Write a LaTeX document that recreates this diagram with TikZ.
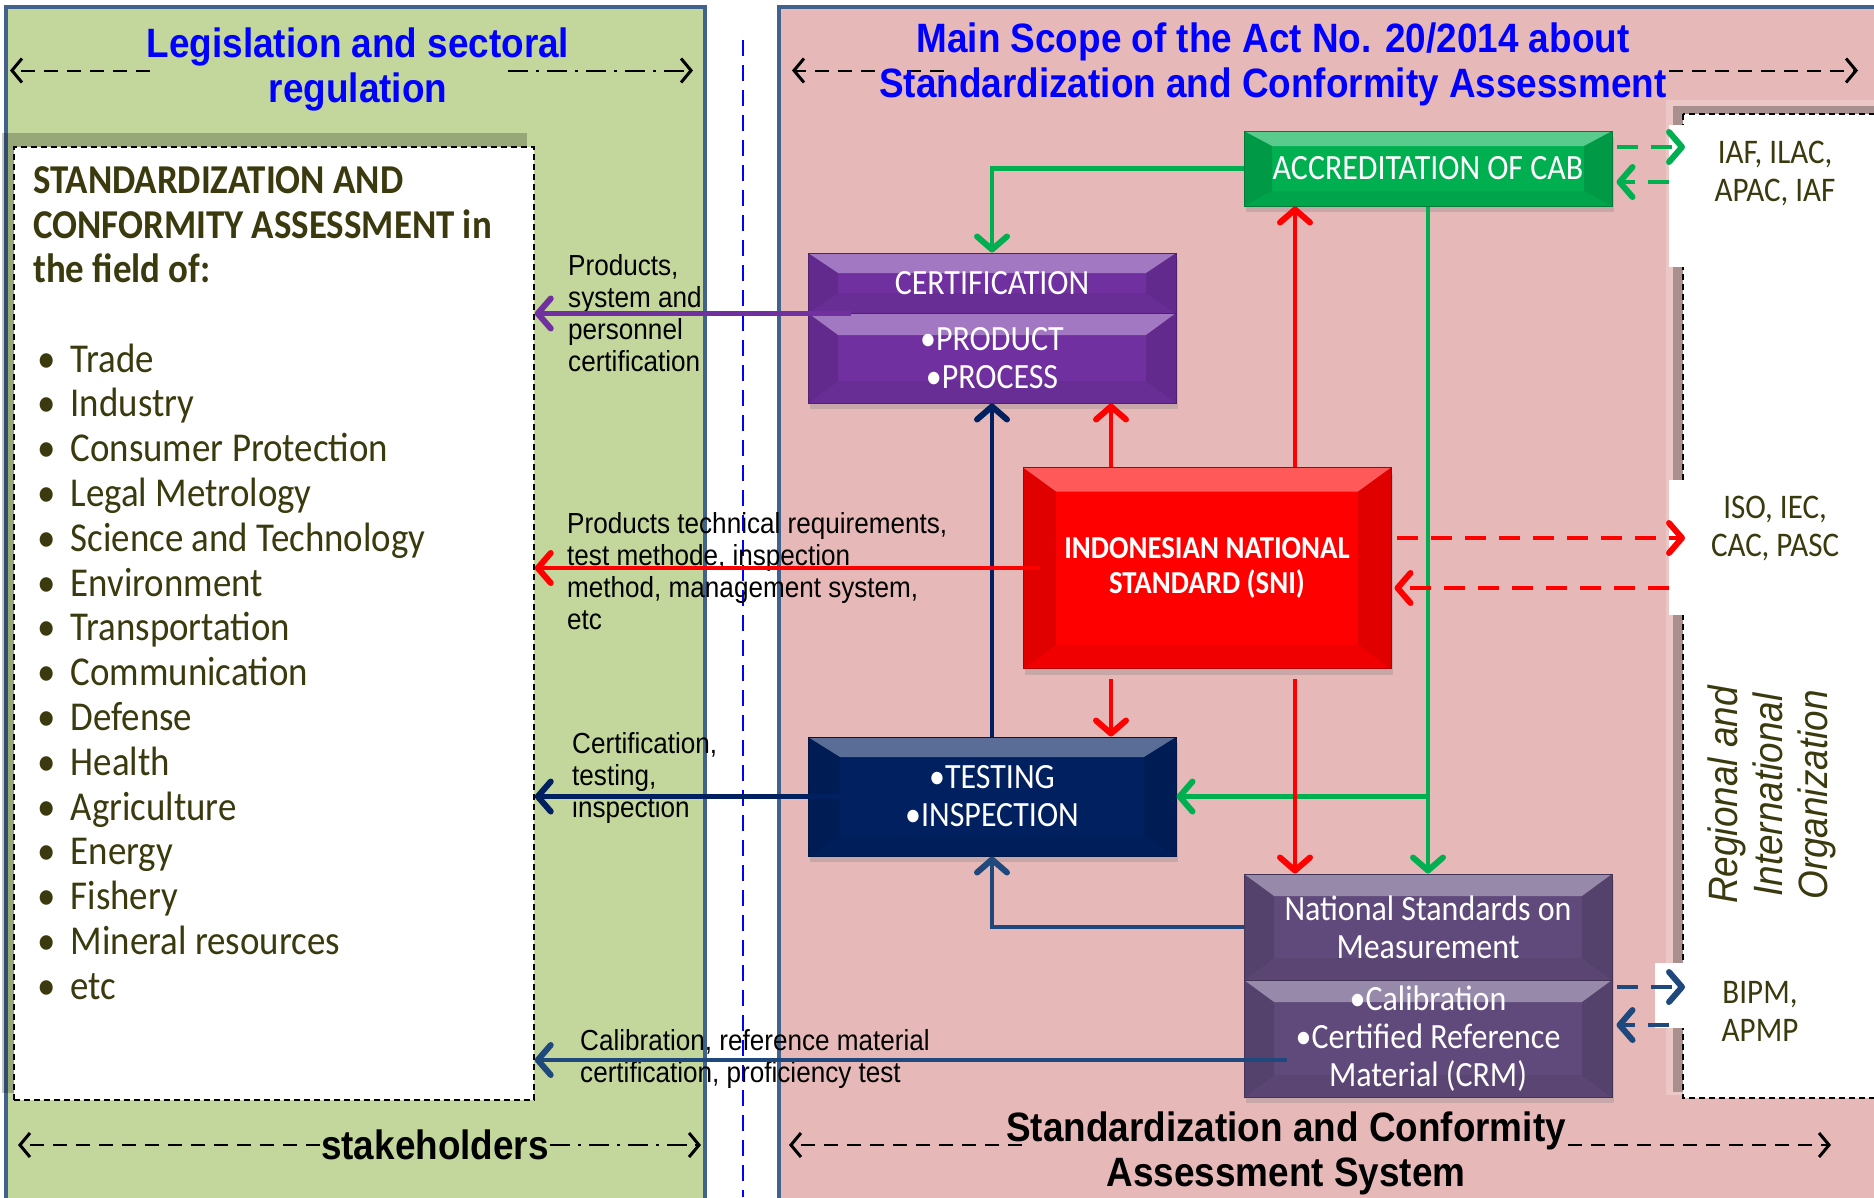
\documentclass[tikz,border=0pt]{standalone}
\usepackage{fontspec}
\usepackage{xcolor}
\usetikzlibrary{arrows.meta}
\usetikzlibrary{shadows}
\newfontfamily\calib[FakeStretch=0.9]{Carlito}
\newfontfamily\arialn[FakeStretch=0.9]{Liberation Sans}
\definecolor{accgreen}{HTML}{00B050}
\definecolor{certpurple}{HTML}{7030A0}
\definecolor{snired}{HTML}{FF0000}
\definecolor{testnavy}{HTML}{002060}
\definecolor{nsmpurple}{HTML}{604A7B}
\definecolor{steelblue}{HTML}{1F497D}
\definecolor{panelgreen}{HTML}{C3D69B}
\definecolor{panelpink}{HTML}{E6B9B8}
\definecolor{frameblue}{HTML}{41628C}
\definecolor{olivetext}{HTML}{3A3A0E}
\definecolor{titleblue}{HTML}{0000FF}
\tikzset{
    bevelbox/.style n args={4}{rectangle, draw=#1!70!black, line width=1pt, fill=#1,
        minimum width=368pt, minimum height=#4pt, inner sep=0pt, align=center, text=white,
        drop shadow={shadow xshift=2pt, shadow yshift=-6pt, opacity=.3},
        path picture={
            \fill[white, opacity=.35] (path picture bounding box.north west)
                -- (path picture bounding box.north east)
                -- ([shift={(-#2pt,-#3pt)}]path picture bounding box.north east)
                -- ([shift={(#2pt,-#3pt)}]path picture bounding box.north west) -- cycle;
            \fill[black, opacity=.12] (path picture bounding box.north west)
                -- ([shift={(#2pt,-#3pt)}]path picture bounding box.north west)
                -- ([shift={(#2pt,#3pt)}]path picture bounding box.south west)
                -- (path picture bounding box.south west) -- cycle;
            \fill[black, opacity=.12] (path picture bounding box.north east)
                -- ([shift={(-#2pt,-#3pt)}]path picture bounding box.north east)
                -- ([shift={(-#2pt,#3pt)}]path picture bounding box.south east)
                -- (path picture bounding box.south east) -- cycle;
            \fill[black, opacity=.06] (path picture bounding box.south west)
                -- ([shift={(#2pt,#3pt)}]path picture bounding box.south west)
                -- ([shift={(-#2pt,#3pt)}]path picture bounding box.south east)
                -- (path picture bounding box.south east) -- cycle;
        }},
    boxtext/.style = {font=\calib\fontsize{35.5}{38}\selectfont},
    conn/.style = {line width=4.5pt, -{Straight Barb[length=13pt,width=30pt,line width=6pt,round]}},
    dconn/.style = {conn, dash pattern=on 21pt off 13pt},
    hdr/.style = {font=\arialn\bfseries\fontsize{41}{45}\selectfont, align=center, inner sep=0pt},
    lbl/.style = {font=\arialn\fontsize{29}{32}\selectfont, align=left, inner sep=0pt, anchor=west},
    org/.style = {font=\calib\fontsize{34.5}{38}\selectfont, text=olivetext, align=center, inner sep=0pt},
    item/.style = {font=\calib\fontsize{41}{44.8}\selectfont, text=olivetext, inner sep=0pt, anchor=base west},
    dimline/.style = {line width=2pt, -{Straight Barb[length=10pt,width=24pt,line width=3pt]}},
    dimdash/.style = {dimline, dash pattern=on 14pt off 9pt},
    dimdot/.style = {dimline, dash pattern=on 20pt off 8pt on 3pt off 8pt},
    patch/.style = {fill=white, inner sep=0pt}
}
\begin{document}
\begin{tikzpicture}[x=1pt, y=-1pt]
\useasboundingbox (0,0) rectangle (1874,1197);
\clip (0,0) rectangle (1874,1197);
\fill[white] (0,0) rectangle (1874,1197);

% the two panels
\draw[frameblue, line width=4pt, fill=panelgreen] (6,7) rectangle (705,1210);
\draw[frameblue, line width=4pt, fill=panelpink] (779,7) rectangle (1895,1210);
\draw[blue, line width=1.5pt, dash pattern=on 16pt off 9pt] (743,40) -- (743,1197);

% fields box
\fill[black, opacity=.22] (2,133) rectangle (527,1093);
\node[draw, fill=white, line width=1.5pt, dash pattern=on 6pt off 4pt,
      minimum width=520pt, minimum height=953pt, inner sep=0pt] (fields) at (274,623.5) {};
\node[font=\calib\bfseries\fontsize{41}{44.5}\selectfont, text=olivetext, align=left,
      anchor=west, inner sep=0pt] (fhead) at (33,225)
      {STANDARDIZATION AND\\CONFORMITY ASSESSMENT in\\the field of:};
\foreach \fname [count=\i] in {Trade, Industry, Consumer Protection, Legal Metrology,
    Science and Technology, Environment, Transportation, Communication, Defense, Health,
    Agriculture, Energy, Fishery, Mineral resources, etc}
    \node[item] (f\i) at (37,{372+44.8*(\i-1)}) {\makebox[33.5pt][l]{•}\fname};

% organisations frame
\fill[white, opacity=.2] (1666,100) rectangle (1895,1095);
\fill[black, opacity=.28] (1673,106) rectangle (1895,1092);
\draw[fill=white, line width=1.5pt, dash pattern=on 6pt off 4pt] (1683,114) rectangle (1900,1098);
\node[patch, minimum width=211pt, minimum height=142pt] (iafbox) at (1774.5,196) {};
\node[patch, minimum width=211pt, minimum height=135pt] (isobox) at (1774.5,547.5) {};
\node[patch, minimum width=225pt, minimum height=65pt] (bipmbox) at (1767.5,995.5) {};
\node[org] (iaf) at (1775,174) {IAF, ILAC,\\APAC, IAF};
\node[org] (iso) at (1775,529) {ISO, IEC,\\CAC, PASC};
\node[org] (bipm) at (1760,1011) {BIPM,\\APMP};
\node[font=\arialn\itshape\fontsize{41}{45}\selectfont, text=olivetext, align=center,
      inner sep=0pt, rotate=90] (regorg) at (1772,795) {Regional and\\International\\Organization};

% titles and span arrows
\coordinate (gLa) at (150,70.5);  \coordinate (gLb) at (10,70.5);
\coordinate (gRa) at (508,70.5);  \coordinate (gRb) at (693,70.5);
\coordinate (pLa) at (944,70.5);  \coordinate (pLb) at (792,70.5);
\coordinate (pRa) at (1669,70.5); \coordinate (pRb) at (1858,70.5);
\coordinate (sLa) at (320,1145);  \coordinate (sLb) at (18,1145);
\coordinate (sRa) at (550,1145);  \coordinate (sRb) at (701,1145);
\coordinate (cLa) at (1022,1145); \coordinate (cLb) at (789,1145);
\coordinate (cRa) at (1568,1145); \coordinate (cRb) at (1831,1145);
\draw[dimdash] (gLa) -- (gLb);
\draw[dimdot] (gRa) -- (gRb);
\draw[dimdash] (pLa) -- (pLb);
\draw[dimdash] (pRa) -- (pRb);
\draw[dimdash] (sLa) -- (sLb);
\draw[dimdot] (sRa) -- (sRb);
\draw[dimdash] (cLa) -- (cLb);
\draw[dimdash] (cRa) -- (cRb);
\node[hdr, text=titleblue] (gtitle) at (358,69) {Legislation and sectoral\\regulation};
\node[hdr, text=titleblue] (ptitle) at (1273,64)
      {Main Scope of the Act No. 20/2014 about\\Standardization and Conformity Assessment};
\node[hdr] (stake) at (435,1145) {stakeholders};
\node[hdr] (scas) at (1286,1153) {Standardization and Conformity\\Assessment System};

% boxes
\node[bevelbox={accgreen}{28}{15}{75}, boxtext] (accr) at (1428,168.5) {ACCREDITATION OF CAB};
\node[bevelbox={certpurple}{30}{20}{60}, boxtext] (certA) at (992,283) {CERTIFICATION};
\node[bevelbox={certpurple}{30}{22}{90}, boxtext] (certB) at (992,358) {•PRODUCT\\•PROCESS};
\node[bevelbox={snired}{33}{24}{201}, font=\calib\bfseries\fontsize{32}{35}\selectfont]
      (sni) at (1207,568) {INDONESIAN NATIONAL\\STANDARD (SNI)};
\node[bevelbox={testnavy}{32}{20}{119}, boxtext] (test) at (992,796.5) {•TESTING\\•INSPECTION};
\node[bevelbox={nsmpurple}{30}{22}{106}, boxtext] (nsmA) at (1428,927) {National Standards on\\Measurement};
\node[bevelbox={nsmpurple}{30}{22}{117}, boxtext] (nsmB) at (1428,1038.5)
      {•Calibration\\•Certified Reference\\Material (CRM)};

% labels of the outgoing arrows
\node[lbl] (lcert) at (568,313) {Products,\\system and\\personnel\\certification};
\node[lbl] (lsni) at (567,571) {Products technical requirements,\\test methode, inspection\\method, management system,\\etc};
\node[lbl] (ltest) at (572,778) {Certification,\\testing,\\inspection};
\node[lbl] (lnsm) at (580,1059) {Calibration, reference material\\certification, proficiency test};

% connectors
\coordinate (xS) at (1111,0);
\coordinate (xR) at (1295,0);
\coordinate (nsmOut) at (1287,1060);
\draw[conn, accgreen] (accr.west) -| (certA.north);
\draw[conn, accgreen] (accr.south) -- (nsmA.north);
\draw[conn, accgreen] (accr.south |- test.east) -- (test.east);
\draw[conn, snired] (xR |- sni.north) -- (xR |- accr.south);
\draw[conn, snired] (xS |- sni.north) -- (xS |- certB.south);
\draw[conn, snired, shorten <=10pt] (xS |- sni.south) -- (xS |- test.north);
\draw[conn, snired, shorten <=10pt] (xR |- sni.south) -- (xR |- nsmA.north);
\draw[conn, testnavy] (test.north) -- (certB.south);
\draw[conn, steelblue] (nsmA.west) -| (test.south);
\draw[conn, certpurple] ([xshift=43pt]certA.south west) -- (fields.east |- certA.south);
\draw[conn, snired] ([xshift=17pt]sni.west) -- (fields.east |- sni.west);
\draw[conn, testnavy] ([xshift=40pt]test.west) -- (fields.east |- test.west);
\draw[conn, steelblue] (nsmOut) -- (fields.east |- nsmOut);

% exchanges with the organisations
\coordinate (iafIn) at (1685,147);   \coordinate (iafOut) at (1669,182);
\coordinate (isoIn) at (1685,538);   \coordinate (isoOut) at (1669,588);
\coordinate (bipmIn) at (1685,987);  \coordinate (bipmOut) at (1669,1025);
\draw[dconn, accgreen] ([xshift=4pt]accr.east |- iafIn) -- (iafIn);
\draw[dconn, accgreen] (iafOut) -- ([xshift=4pt]accr.east |- iafOut);
\draw[dconn, snired] ([xshift=5pt]sni.east |- isoIn) -- (isoIn);
\draw[dconn, snired] (isoOut) -- ([xshift=3pt]sni.east |- isoOut);
\draw[dconn, steelblue] ([xshift=4pt]nsmB.east |- bipmIn) -- (bipmIn);
\draw[dconn, steelblue] (bipmOut) -- ([xshift=4pt]nsmB.east |- bipmOut);
\end{tikzpicture}
\end{document}
